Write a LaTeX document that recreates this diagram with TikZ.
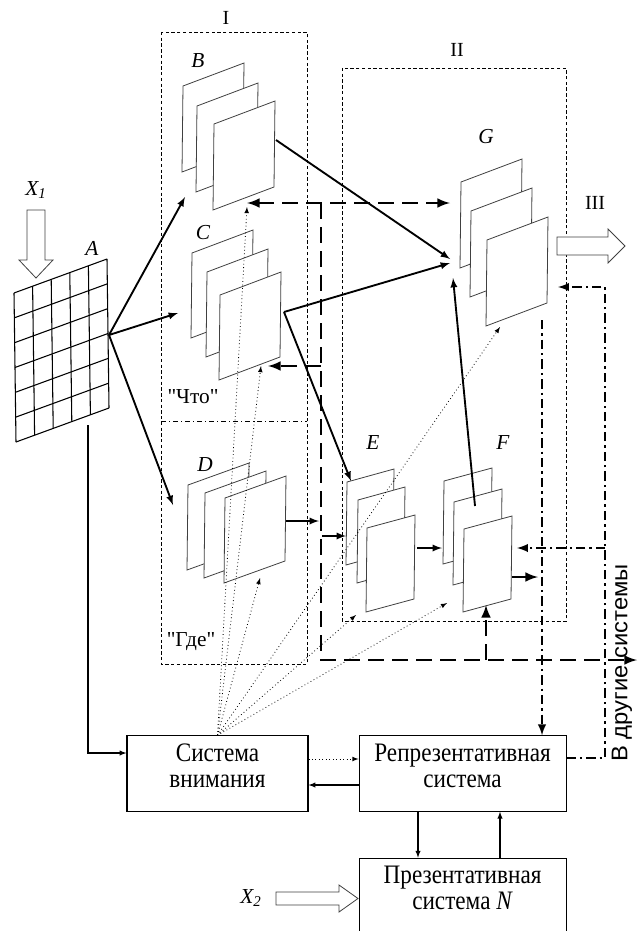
\documentclass[tikz,border=0pt]{standalone}
\usepackage{fontspec}
\setmainfont{Liberation Serif}
\newfontfamily\boxfont{Liberation Serif}[FakeStretch=0.87]
\newfontfamily\sidefont{Liberation Sans}[FakeStretch=1.05]
\usetikzlibrary{positioning,calc}

% one map of a stack: top-left corner, width, rise, height
\newcommand{\drawsheet}[5]{%
  \filldraw[sheetline] (#1,#2) -- ++(#3,-#4) -- ++(-1,#5) -- ++(-#3,#4) -- cycle;}

\begin{document}
\begin{tikzpicture}[x=0.75pt,y=-0.75pt,
	font=\fontsize{17}{20}\selectfont,
	box/.style={rectangle, draw=black, line width=0.8pt, text centered, align=center, minimum height=56.5pt,
		text depth=12pt, font=\boxfont\fontsize{20}{19.5}\selectfont},
	sheetline/.style={draw=black!75, fill=white, line width=0.6pt},
	gridline/.style={line width=0.8pt},
	frameline/.style={line width=0.6pt, dash pattern=on 2.5pt off 1.8pt},
	arr/.style={line width=1.4pt, -latex},
	thinarr/.style={line width=0.8pt, -latex},
	dasharr/.style={line width=2.2pt, dash pattern=on 12pt off 6pt},
	ddarr/.style={line width=1.8pt, dash pattern=on 7pt off 3pt on 1.8pt off 3pt},
	dotarr/.style={line width=0.6pt, dotted, -latex},
	hollow/.style={draw=black!75, fill=white, line width=0.6pt},
	lbl/.style={font=\fontsize{16}{19}\selectfont\itshape},
	roman/.style={font=\fontsize{15}{18}\selectfont}
	]
	\useasboundingbox (0,0) rectangle (640,931);

	% frames I and II
	\draw[frameline] (161,32) rectangle (307,664);
	\draw[line width=0.6pt, dash pattern=on 4pt off 2pt on 1pt off 2pt] (161,421) -- (307,421);
	\draw[frameline] (342,68) rectangle (566,621);

	% retina A
	\coordinate (a1) at (14,293);
	\coordinate (a2) at (107,259);
	\coordinate (a3) at (109,408);
	\coordinate (a4) at (16,442);
	\foreach \i in {0,...,5}
		\draw[gridline] ($(a1)!\i/5!(a2)$) -- ($(a4)!\i/5!(a3)$);
	\foreach \j in {0,...,6}
		\draw[gridline] ($(a1)!\j/6!(a4)$) -- ($(a2)!\j/6!(a3)$);

	% B
	\drawsheet{183}{86}{61}{23}{86}
	\drawsheet{197}{106}{61}{23}{86}
	\drawsheet{214}{124}{61}{23}{86}
	% C
	\drawsheet{192}{253}{61}{23}{85}
	\drawsheet{207}{272}{61}{23}{85}
	\drawsheet{220}{295}{61}{23}{85}
	% D
	\drawsheet{188}{485}{61}{22}{85}
	\drawsheet{205}{493}{61}{22}{85}
	\drawsheet{225}{498}{61}{22}{85}
	% E
	\drawsheet{347}{482}{47}{13}{83}
	\drawsheet{358}{500}{47}{13}{83}
	\drawsheet{367}{528}{48}{13}{84}
	% F
	\drawsheet{444}{481}{48}{13}{83}
	\drawsheet{454}{502}{48}{13}{83}
	\drawsheet{464}{529}{48}{13}{83}
	% G
	\drawsheet{461}{182}{61}{23}{86}
	\drawsheet{471}{211}{61}{23}{86}
	\drawsheet{487}{240}{61}{23}{86}

	% big arrows
	\filldraw[hollow] (27,210) -- (45,210) -- (45,260) -- (53,260) -- (36,278) -- (19,260) -- (27,260) -- cycle;
	\filldraw[hollow] (557,237) -- (608,237) -- (608,229) -- (625,246) -- (608,263) -- (608,255) -- (557,255) -- cycle;
	\filldraw[hollow] (276,892) -- (339,892) -- (339,885) -- (358,898.5) -- (339,912) -- (339,905) -- (276,905) -- cycle;

	% systems
	\node (att) [box, minimum width=135.75pt] at (217.5,773.5) {Система\\внимания};
	\node (rep) [box, minimum width=155.25pt, right=37.5pt of att] {Репрезентативная\\система};
	\node (pres) [box, minimum width=155.25pt, minimum height=57pt, below=34.5pt of rep] {Презентативная\\система \textit{N}};

	% points on the maps
	\coordinate (aout) at (109,335);
	\coordinate (bout) at (276,140);
	\coordinate (cout) at (284,312);
	\coordinate (fout) at (475,506);
	\coordinate (bustop) at (321,203);
	\coordinate (busbot) at (321,660);
	\coordinate (gin) at (558,287);

	\draw[arr] (aout) -- (185,197);
	\draw[arr] (aout) -- (178,313);
	\draw[arr] (aout) -- (173,505);
	\draw[arr] (bout) -- (450,259);
	\draw[arr] (cout) -- (450,263);
	\draw[arr] (cout) -- (351,481);
	\draw[arr] (fout) -- (453,278);
	\draw[arr] (417,548) -- (442,548);
	\draw[arr] (286,521) -- (319,521);
	\draw[arr] (322,536) -- (346,536);

	\draw[dasharr,-latex] (bustop) -- (busbot) -- (637,660);
	\draw[dasharr,latex-latex] (247,203) -- (450,203);
	\draw[dasharr,-latex] (321,366) -- (268,366);
	\draw[dasharr,-latex] (486,660) -- (486,605);
	\draw[dasharr,-latex] (512,577) -- (538,577);

	\draw[ddarr,-latex] (rep.east |- 0,758) -| (605,287) -- (gin);
	\draw[ddarr,-latex] (605,548) -- (517,548);
	\draw[ddarr,-latex] (542,320) -- (rep.north -| 542,0);

	\foreach \t in {(247,207),(261,366),(260,578),(356,615),(447,603),(500,327)}
		\draw[dotarr] (att.north) -- \t;

	\draw[thinarr] (88,425) |- (att.west |- 0,753);
	\draw[dotarr] (att.east |- 0,759) -- (rep.west |- 0,759);
	\draw[thinarr] (rep.west |- 0,785) -- (att.east |- 0,785);
	\draw[thinarr] (rep.south -| 418,0) -- (pres.north -| 418,0);
	\draw[thinarr] (pres.north -| 500,0) -- (rep.south -| 500,0);

	% labels
	\node (lI) [roman] at (226,18) {I};
	\node (lII) [roman] at (457,50) {II};
	\node (lIII) [roman] at (595,203) {III};
	\node (lA) [lbl] at (92,248) {A};
	\node (lB) [lbl] at (198,61) {B};
	\node (lC) [lbl] at (203,233) {C};
	\node (lD) [lbl] at (205,465) {D};
	\node (lE) [lbl] at (373,443) {E};
	\node (lF) [lbl] at (503,443) {F};
	\node (lG) [lbl] at (486,137) {G};
	\node (lx1) [lbl] at (36,190) {X\textsubscript{1}};
	\node (lx2) [lbl] at (251,898) {X\textsubscript{2}};
	\node (what) [font=\fontsize{16}{19}\selectfont] at (193,397) {\textquotedbl Что\textquotedbl};
	\node (where) [font=\fontsize{16}{19}\selectfont] at (191,642) {\textquotedbl Где\textquotedbl};
	\node (other) [rotate=90, font=\sidefont\fontsize{17}{20}\selectfont] at (622,663) {В другие системы};

\end{tikzpicture}
\end{document}
